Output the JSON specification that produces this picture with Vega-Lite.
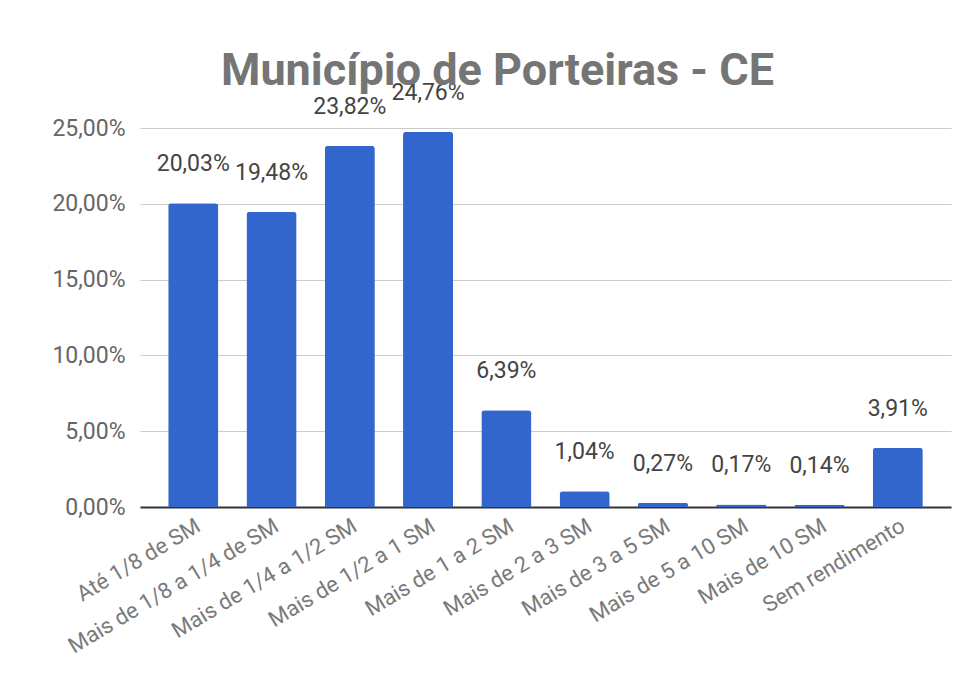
{
  "$schema": "https://vega.github.io/schema/vega-lite/v6.json",
  "autosize": {"type": "none"},
  "padding": {"left": 140, "top": 128, "right": 20, "bottom": 171},
  "width": 811,
  "height": 379,
  "background": "white",
  "config": {
    "locale": {"number": {"decimal": ",", "thousands": ".", "grouping": [3], "currency": ["R$", ""]}},
    "font": "Roboto",
    "view": {"stroke": null}
  },
  "title": {
    "text": "Município de Porteiras - CE",
    "fontSize": 45,
    "fontWeight": "bold",
    "color": "#757575",
    "anchor": "middle",
    "frame": "group",
    "dx": -48,
    "dy": 16,
    "offset": 4
  },
  "data": {
    "values": [
      {"faixa": "Até 1/8 de SM", "pct": 0.2003},
      {"faixa": "Mais de 1/8 a 1/4 de SM", "pct": 0.1948},
      {"faixa": "Mais de 1/4 a 1/2 SM", "pct": 0.2382},
      {"faixa": "Mais de 1/2 a 1 SM", "pct": 0.2476},
      {"faixa": "Mais de 1 a 2 SM", "pct": 0.0639},
      {"faixa": "Mais de 2 a 3 SM", "pct": 0.0104},
      {"faixa": "Mais de 3 a 5 SM", "pct": 0.0027},
      {"faixa": "Mais de 5 a 10 SM", "pct": 0.0017},
      {"faixa": "Mais de 10 SM", "pct": 0.0014},
      {"faixa": "Sem rendimento", "pct": 0.0391}
    ]
  },
  "encoding": {
    "x": {
      "field": "faixa",
      "type": "nominal",
      "sort": null,
      "scale": {"paddingInner": 0.36, "paddingOuter": 0.36},
      "axis": {
        "title": null,
        "labelAngle": -31,
        "labelFontSize": 22,
        "labelColor": "#7a7a7a",
        "labelLimit": 0,
        "labelDx": 12,
        "ticks": false,
        "labelPadding": 8,
        "domainColor": "#333333",
        "domainWidth": 2,
        "grid": false
      }
    },
    "y": {
      "field": "pct",
      "type": "quantitative",
      "scale": {"domain": [0, 0.25], "nice": false},
      "axis": {
        "title": null,
        "values": [0, 0.05, 0.1, 0.15, 0.2, 0.25],
        "format": ".2%",
        "labelFontSize": 23,
        "labelColor": "#666666",
        "labelPadding": 15,
        "ticks": false,
        "domain": false,
        "gridColor": "#cccccc",
        "gridWidth": 1
      }
    }
  },
  "layer": [
    {
      "mark": {"type": "bar", "color": "#3366cc", "cornerRadiusTopLeft": 3, "cornerRadiusTopRight": 3}
    },
    {
      "mark": {"type": "text", "fontSize": 23, "color": "#444444", "baseline": "alphabetic", "dy": -32},
      "encoding": {"text": {"field": "pct", "type": "quantitative", "format": ".2%"}}
    }
  ]
}
